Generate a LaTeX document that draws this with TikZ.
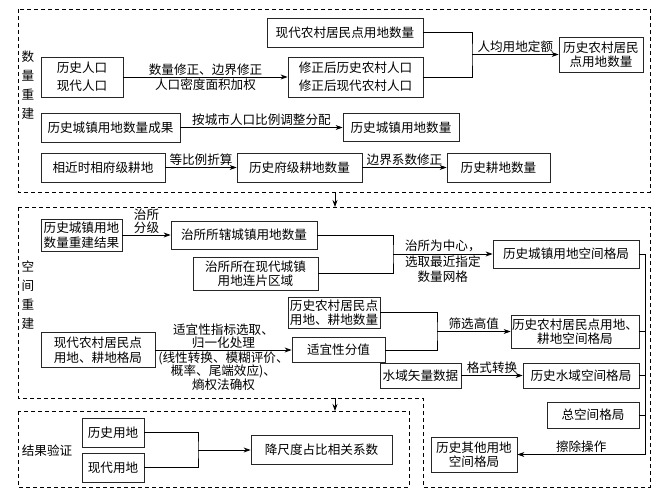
\documentclass[tikz,border=0pt]{standalone}
\usepackage{fontspec}
\setmainfont{Noto Sans CJK SC}
\usetikzlibrary{arrows.meta,positioning}

\tikzset{
  box/.style={draw=black!85, line width=0.8pt, inner sep=1pt, align=center,
    font=\fontsize{12.6}{14.5}\selectfont},
  lab/.style={inner sep=1.5pt, align=center, font=\fontsize{12.6}{14.5}\selectfont},
  tight/.style={inner sep=1pt, align=center, font=\fontsize{12.6}{13.5}\selectfont},
  side/.style={inner sep=0pt, align=center, font=\fontsize{12.6}{19}\selectfont},
  arr/.style={line width=0.8pt, -{Stealth[length=7pt,width=5pt]}},
  link/.style={line width=0.8pt},
  zone/.style={line width=0.9pt, dash pattern=on 4pt off 3pt},
}

\begin{document}
\begin{tikzpicture}[x=1pt, y=-1pt]
\useasboundingbox (0,0) rectangle (657,495);

% three parts
\draw[zone] (18,9) rectangle (650,192);
\draw[zone] (18,207) -- (650,207) -- (650,487) -- (423,487) -- (423,398) -- (18,398) -- cycle;
\draw[zone] (18,411) rectangle (409,487);

\node[side] (numlab) at (28,85) {数\\量\\重\\建};
\node[side] (spalab) at (28,295) {空\\间\\重\\建};
\node[lab] (chklab) at (47,451) {结果验证};

% quantity
\node[box, minimum width=82pt, minimum height=40pt, font=\fontsize{12.6}{18}\selectfont] (pop) at (82,77) {历史人口\\现代人口};
\node[box, minimum width=156pt, minimum height=29pt] (modrur) at (345,32.5) {现代农村居民点用地数量};
\node[box, minimum width=135pt, minimum height=40pt, font=\fontsize{12.6}{18}\selectfont] (corpop) at (355.5,77) {修正后历史农村人口\\修正后现代农村人口};
\node[box, minimum width=84pt, minimum height=35pt] (hisrur) at (601,54.5) {历史农村居民\\点用地数量};
\node[box, minimum width=139pt, minimum height=29pt] (urbres) at (110.5,127.5) {历史城镇用地数量成果};
\node[box, minimum width=116pt, minimum height=28pt] (urbnum) at (401,127.5) {历史城镇用地数量};
\node[box, minimum width=124pt, minimum height=29pt] (neafarm) at (103,167.5) {相近时相府级耕地};
\node[box, minimum width=125pt, minimum height=29pt] (fufarm) at (299.5,167.5) {历史府级耕地数量};
\node[box, minimum width=103pt, minimum height=29pt] (farm) at (498.5,167.5) {历史耕地数量};

\draw[arr] (pop) -- node[lab, above] {数量修正、边界修正} node[lab, below] {人口密度面积加权} (corpop);
\coordinate (j1) at (472,54.5);
\draw[link] (modrur.east) -| (j1) |- (corpop.east);
\draw[arr] (j1) -- node[lab, above] {人均用地定额} (hisrur);
\draw[arr] (urbres) -- node[lab, above] {按城市人口比例调整分配} (urbnum);
\draw[arr] (neafarm) -- node[lab, above] {等比例折算} (fufarm);
\draw[arr] (fufarm) -- node[lab, above] {边界系数修正} (farm);

\coordinate (s1b) at (335,192);
\coordinate (s2t) at (335,207);
\draw[arr] (s1b) -- (s2t);

% space
\node[box, minimum width=81pt, minimum height=32pt] (urbin) at (81.5,235) {历史城镇用地\\数量重建结果};
\node[box, minimum width=146pt, minimum height=28pt] (seatnum) at (244,235) {治所所辖城镇用地数量};
\node[box, minimum width=125pt, minimum height=33pt] (seatarea) at (255.5,273.5) {治所所在现代城镇\\用地连片区域};
\node[box, minimum width=146pt, minimum height=28pt] (urbpat) at (566,254) {历史城镇用地空间格局};
\node[box, minimum width=92pt, minimum height=31pt] (rurnum) at (334,312.5) {历史农村居民点\\用地、耕地数量};
\node[box, minimum width=93pt, minimum height=25pt] (suit) at (338.5,350) {适宜性分值};
\node[box, minimum width=114pt, minimum height=35pt] (modpat) at (98,350) {现代农村居民点\\用地、耕地格局};
\node[box, minimum width=128pt, minimum height=33pt] (rurpat) at (575,331.5) {历史农村居民点用地、\\耕地空间格局};
\node[box, minimum width=81pt, minimum height=25pt] (water) at (420.5,375.5) {水域矢量数据};
\node[box, minimum width=116pt, minimum height=25pt] (watpat) at (581,375.5) {历史水域空间格局};
\node[box, minimum width=92pt, minimum height=26pt] (total) at (593,415) {总空间格局};
\node[box, minimum width=86pt, minimum height=35pt] (other) at (474,454.5) {历史其他用地\\空间格局};

\draw[arr] (urbin) -- node[tight, above] {治所\\分级} (seatnum);
\coordinate (j2) at (393,254);
\draw[link] (seatnum.east) -| (j2) |- (seatarea.east);
\draw[arr] (j2) -- node[lab, above] {治所为中心，} node[lab, below] {选取最近指定\\数量网格} (urbpat);
\coordinate (j3) at (437,331.5);
\draw[link] (rurnum.east) -| (j3) |- (suit.east);
\draw[arr] (j3) -- node[lab, above] {筛选高值} (rurpat);
\draw[arr] (modpat) -- node[tight, above] {适宜性指标选取、\\归一化处理}
  node[tight, below] {(线性转换、模糊评价、\\概率、尾端效应)、\\熵权法确权} (suit);
\draw[arr] (water) -- node[lab, above] {格式转换} (watpat);
\coordinate (j4) at (645,454.5);
\draw[link] (urbpat.east) -| (j4);
\draw[link] (rurpat.east) -- (rurpat.east -| j4);
\draw[link] (watpat.east) -- (watpat.east -| j4);
\draw[link] (total.east) -- (total.east -| j4);
\draw[arr] (j4) -- node[lab, above] {擦除操作} (other);

\coordinate (s2b) at (335,398);
\coordinate (s3t) at (335,411);
\draw[arr] (s2b) -- (s3t);

% check
\node[box, minimum width=62pt, minimum height=29pt] (hisland) at (113,432.5) {历史用地};
\node[box, minimum width=62pt, minimum height=29pt] (modland) at (113,467.5) {现代用地};
\node[box, minimum width=141pt, minimum height=29pt] (coef) at (321.5,450) {降尺度占比相关系数};
\coordinate (j5) at (198,450);
\draw[link] (hisland.east) -| (j5) |- (modland.east);
\draw[arr] (j5) -- (coef);

\end{tikzpicture}
\end{document}
